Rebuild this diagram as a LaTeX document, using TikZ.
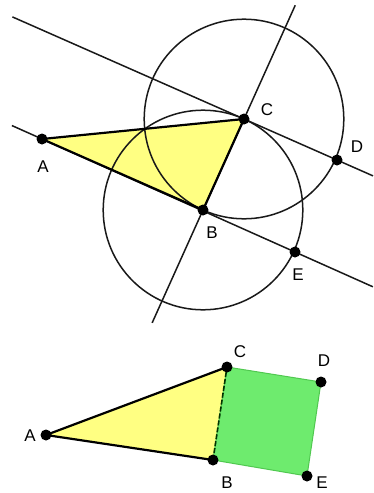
\documentclass[tikz,border=0pt]{standalone}
\usepackage{fontspec}
\setmainfont{Liberation Sans}
\usetikzlibrary{calc,through}
\definecolor{triyellow}{RGB}{255,255,130}
\definecolor{sqgreen}{RGB}{110,235,110}
\definecolor{sqedge}{RGB}{80,200,80}
\begin{document}
\begin{tikzpicture}[x=1pt,y=-1pt,
  pt/.style={circle,fill=black,inner sep=0pt,minimum size=11pt},
  lbl/.style={font=\fontsize{17}{17}\selectfont,inner sep=0pt},
  cline/.style={line width=1.5pt,black!90},
  tri/.style={line width=2.2pt,black}]
\useasboundingbox (0,0) rectangle (374,493);
% ---- top figure ----
\coordinate (A) at (42,139);
\coordinate (C) at (244,119);
\coordinate (B) at (203,210);
\coordinate (D) at (337,160);
\coordinate (E) at (295,252);
\fill[triyellow] (A) -- (C) -- (B) -- cycle;
\coordinate (l1a) at ($(C)!-2.49!(D)$);
\coordinate (l1b) at ($(C)!1.387!(D)$);
\coordinate (l2a) at ($(A)!-0.119!(E)$);
\coordinate (l2b) at ($(A)!1.308!(E)$);
\coordinate (l3a) at ($(B)!-1.24!(C)$);
\coordinate (l3b) at ($(B)!2.25!(C)$);
\draw[cline] (l1a) -- (l1b);
\draw[cline] (l2a) -- (l2b);
\draw[cline] (l3a) -- (l3b);
\node[draw,cline,circle through=(B)] (circC) at (C) {};
\node[draw,cline,circle through=(C)] (circB) at (B) {};
\draw[tri,line join=round] (A) -- (C) -- (B) -- cycle;
\node[pt] (pA) at (A) {};
\node[pt] (pB) at (B) {};
\node[pt] (pC) at (C) {};
\node[pt] (pD) at (D) {};
\node[pt] (pE) at (E) {};
\node[lbl] (tA) at (43,167) {A};
\node[lbl] (tC) at (267,110) {C};
\node[lbl] (tB) at (212,233) {B};
\node[lbl] (tD) at (357,147) {D};
\node[lbl] (tE) at (298,275) {E};
% ---- bottom figure ----
\coordinate (A2) at (46,435);
\coordinate (C2) at (227,367);
\coordinate (B2) at (213,460);
\coordinate (D2) at (321,382);
\coordinate (E2) at (307,476);
\fill[triyellow] (A2) -- (C2) -- (B2) -- cycle;
\filldraw[fill=sqgreen,draw=sqedge,line width=1pt] (B2) -- (C2) -- (D2) -- (E2) -- cycle;
\draw[tri] (B2) -- (A2) -- (C2);
\draw[line width=1.6pt,black!80!green,dash pattern=on 5pt off 2pt] (B2) -- (C2);
\node[pt] (pA2) at (A2) {};
\node[pt] (pB2) at (B2) {};
\node[pt] (pC2) at (C2) {};
\node[pt] (pD2) at (D2) {};
\node[pt] (pE2) at (E2) {};
\node[lbl] (tA2) at (30,436) {A};
\node[lbl] (tC2) at (240,352) {C};
\node[lbl] (tD2) at (324,361) {D};
\node[lbl] (tB2) at (227,483) {B};
\node[lbl] (tE2) at (322,483) {E};
\end{tikzpicture}
\end{document}
